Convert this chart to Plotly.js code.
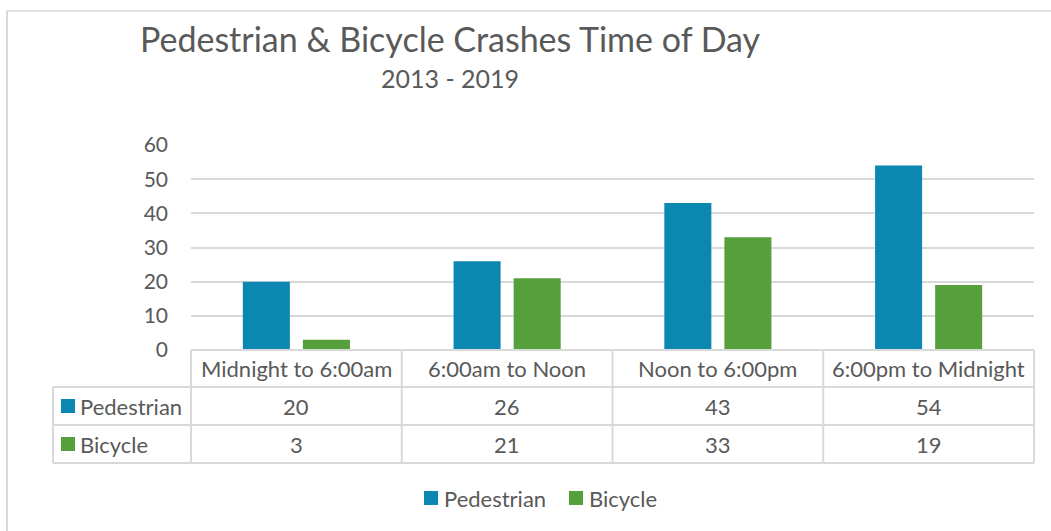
<!DOCTYPE html>
<html>
<head>
<meta charset="utf-8">
<script src="https://cdn.plot.ly/plotly-3.0.1.min.js"></script>
<style>html,body{margin:0;padding:0;background:#fff;}#chart{width:1051px;height:531px;}</style>
</head>
<body>
<div id="chart"></div>
<script>
const categories = ["Midnight to 6:00am", "6:00am to Noon", "Noon to 6:00pm", "6:00pm to Midnight"];
const pedestrian = [20, 26, 43, 54];
const bicycle = [3, 21, 33, 19];
const seriesNames = ["Pedestrian", "Bicycle"];
const seriesColors = ["#0B87B2", "#55A03B"];
const titleText = "Pedestrian & Bicycle Crashes Time of Day";
const subtitleText = "2013 - 2019";

const W = 1051, H = 531;
const M = {l: 191, r: 17, t: 145, b: 181};
const PW = W - M.l - M.r, PH = H - M.t - M.b;
const px = x => (x - M.l) / PW;        // pixel -> paper x
const py = y => (H - M.b - y) / PH;    // pixel -> paper y

const font = "Lato, 'Open Sans', sans-serif";
const txt = "#595959";
const grid = "#D9D9D9";

const traces = [
  {type: "bar", name: seriesNames[0], x: categories, y: pedestrian,
   marker: {color: seriesColors[0], line: {width: 0}}, hoverinfo: "x+y+name"},
  {type: "bar", name: seriesNames[1], x: categories, y: bicycle,
   marker: {color: seriesColors[1], line: {width: 0}}, hoverinfo: "x+y+name"}
];

// table geometry (pixels)
const rowY = [350, 387, 425, 463];
const tableLeft = 53, plotLeft = 191, plotRight = 1034;
const colW = (plotRight - plotLeft) / categories.length;

const shapes = [];
const line = (x0, y0, x1, y1) => shapes.push({type: "line", xref: "paper", yref: "paper",
  x0: px(x0), y0: py(y0), x1: px(x1), y1: py(y1), line: {color: grid, width: 2}});
line(plotLeft, rowY[0], plotRight, rowY[0]);
for (let i = 1; i < rowY.length; i++) line(tableLeft, rowY[i], plotRight, rowY[i]);
line(tableLeft, rowY[1], tableLeft, rowY[3]);
for (let i = 0; i <= categories.length; i++) {
  const x = plotLeft + i * colW;
  line(x, rowY[0], x, rowY[3]);
}
const series = [pedestrian, bicycle];
const annotations = [];
const tfont = {family: font, size: 22, color: txt};
seriesNames.forEach((n, s) => {
  const cy = (rowY[s + 1] + rowY[s + 2]) / 2;
  shapes.push({type: "rect", xref: "paper", yref: "paper",
    x0: px(61), x1: px(75), y0: py(cy - 7), y1: py(cy + 7),
    fillcolor: seriesColors[s], line: {width: 0}});
  annotations.push({xref: "paper", yref: "paper", x: px(78), y: py(cy), xanchor: "left", yanchor: "middle",
    text: n, showarrow: false, font: tfont});
  series[s].forEach((v, i) => {
    annotations.push({xref: "paper", yref: "paper", x: px(plotLeft + (i + 0.5) * colW), y: py(cy),
      xanchor: "center", yanchor: "middle", text: String(v), showarrow: false, font: tfont});
  });
});
categories.forEach((c, i) => {
  annotations.push({xref: "paper", yref: "paper", x: px(plotLeft + (i + 0.5) * colW), y: py((rowY[0] + rowY[1]) / 2),
    xanchor: "center", yanchor: "middle", text: c, showarrow: false, font: tfont});
});
annotations.push({xref: "paper", yref: "paper", x: px(450), y: py(78), xanchor: "center", yanchor: "middle",
  text: subtitleText, showarrow: false, font: {family: font, size: 25, color: txt}});

// bottom legend (manual, to match spacing)
const legendItems = [{x: 424, textX: 442}, {x: 569, textX: 587}];
seriesNames.forEach((n, s) => {
  const ly = 498;
  shapes.push({type: "rect", xref: "paper", yref: "paper",
    x0: px(legendItems[s].x), x1: px(legendItems[s].x + 14), y0: py(ly - 7), y1: py(ly + 7),
    fillcolor: seriesColors[s], line: {width: 0}});
  annotations.push({xref: "paper", yref: "paper", x: px(legendItems[s].textX), y: py(ly), xanchor: "left", yanchor: "middle",
    text: n, showarrow: false, font: tfont});
});

// outer chart border
shapes.push({type: "line", xref: "paper", yref: "paper", x0: px(6), y0: py(11), x1: px(1051), y1: py(11), line: {color: grid, width: 1.5}});
shapes.push({type: "line", xref: "paper", yref: "paper", x0: px(7), y0: py(11), x1: px(7), y1: py(531), line: {color: grid, width: 2}});

const layout = {
  width: W, height: H,
  margin: M,
  paper_bgcolor: "#fff", plot_bgcolor: "#fff",
  title: {text: titleText, x: 450 / W, xanchor: "center", xref: "container", y: 1 - 40 / H, yanchor: "middle",
    font: {family: font, size: 34, color: txt}},
  barmode: "group", bargap: 0.43, bargroupgap: 0.217,
  xaxis: {showticklabels: false, showgrid: false, zeroline: false, showline: false, ticks: "", fixedrange: true},
  yaxis: {range: [0, 60], dtick: 10, showgrid: true, gridcolor: grid, gridwidth: 2, zeroline: false,
    showline: false, ticks: "", ticklabelstandoff: 22,
    tickfont: {family: font, size: 21, color: txt}, fixedrange: true},
  showlegend: false,
  shapes: shapes,
  annotations: annotations
};

Plotly.newPlot("chart", traces, layout, {displayModeBar: false, staticPlot: true});
</script>
</body>
</html>
